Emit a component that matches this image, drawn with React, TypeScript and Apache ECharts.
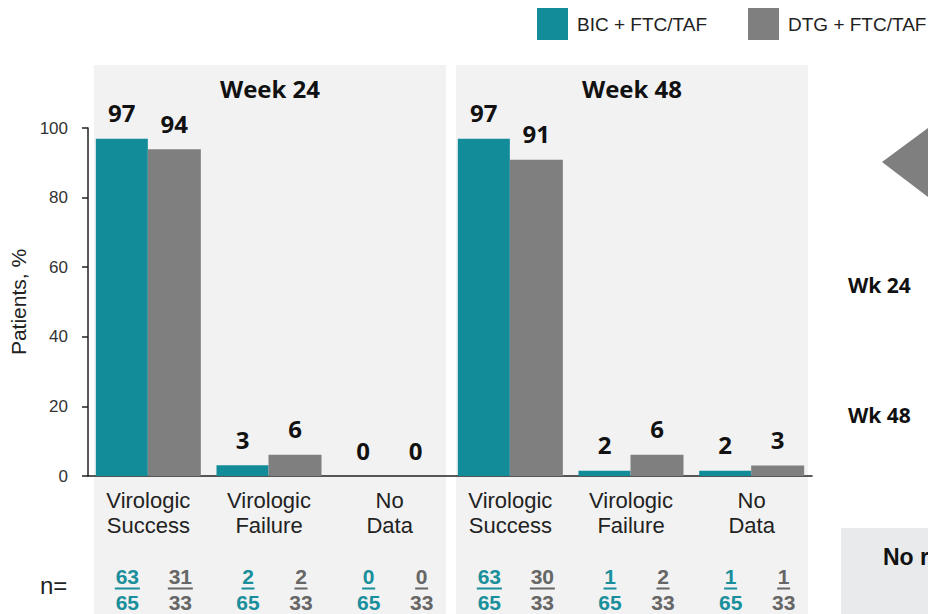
import React, { useEffect, useRef } from "react";
import * as echarts from "echarts";

const categories = [
  "Virologic\nSuccess",
  "Virologic\nFailure",
  "No\nData",
  "Virologic\nSuccess",
  "Virologic\nFailure",
  "No\nData",
];
const seriesNames = ["BIC + FTC/TAF", "DTG + FTC/TAF"];
const bicValues = [96.9, 3.1, 0, 96.9, 1.5, 1.5];
const dtgValues = [93.9, 6.1, 0, 90.9, 6.1, 3.0];
const bicN = [63, 2, 0, 63, 1, 1];
const bicTotal = [65, 65, 65, 65, 65, 65];
const dtgN = [31, 2, 0, 30, 2, 1];
const dtgTotal = [33, 33, 33, 33, 33, 33];
const panelTitles = ["Week 24", "Week 48"];
const sideLabels = ["Wk 24", "Wk 48"];
const yTicks = { min: 0, max: 100, interval: 20 };

const TEAL = "#138c99";
const GRAY = "#7f7f7f";
const SANS = "'Liberation Sans', Arial, sans-serif";
const BOLD = "'Open Sans', 'DejaVu Sans', sans-serif";

export default function App() {
  const ref = useRef<HTMLDivElement>(null);
  useEffect(() => {
    if (!ref.current) return;
    const chart = echarts.init(ref.current, undefined, { renderer: "svg" });
    const labelCfg = {
      show: true,
      position: "top",
      distance: 14,
      fontFamily: BOLD,
      fontWeight: 700,
      fontSize: 24,
      color: "#111",
      formatter: (p: any) => String(Math.round(p.value)),
    };
    const legendBase = {
      top: 8,
      padding: 0,
      itemWidth: 31,
      itemHeight: 32,
      icon: "rect",
      textStyle: { fontFamily: SANS, fontSize: 19, color: "#222", padding: [0, 0, 0, 4] },
    };
    chart.setOption({
      animation: false,
      backgroundColor: "#ffffff",
      legend: [
        { ...legendBase, left: 537, data: [seriesNames[0]] },
        { ...legendBase, left: 748, data: [seriesNames[1]] },
      ],
      grid: { left: 88, right: 116, top: 128, bottom: 138, outerBoundsMode: "none", containLabel: false },
      xAxis: {
        type: "category",
        data: categories,
        axisLine: { lineStyle: { color: "#222", width: 1.5 } },
        axisTick: { show: false },
        axisLabel: {
          interval: 0,
          fontFamily: SANS,
          fontSize: 22,
          lineHeight: 25,
          color: "#222",
          margin: 12,
        },
      },
      yAxis: {
        type: "value",
        min: yTicks.min,
        max: yTicks.max,
        interval: yTicks.interval,
        name: "Patients, %",
        nameLocation: "middle",
        nameRotate: 90,
        nameGap: 52,
        nameTextStyle: { fontFamily: SANS, fontSize: 21, color: "#222" },
        axisLine: { show: true, lineStyle: { color: "#222", width: 1.5 } },
        axisTick: { show: true, length: 6, lineStyle: { color: "#222", width: 1.5 } },
        axisLabel: { fontFamily: SANS, fontSize: 17, color: "#333", margin: 20 },
        splitLine: { show: false },
      },
      series: [
        {
          name: seriesNames[0],
          type: "bar",
          data: bicValues,
          barWidth: 52,
          barGap: "0%",
          itemStyle: { color: TEAL },
          label: labelCfg,
          z: 3,
        },
        {
          name: seriesNames[1],
          type: "bar",
          data: dtgValues,
          barWidth: 53,
          barGap: "0%",
          itemStyle: { color: GRAY },
          label: labelCfg,
          z: 3,
        },
      ],
    });

    const px = (i: number) => chart.convertToPixel({ xAxisIndex: 0 }, i) as number;
    const band = px(1) - px(0);
    const graphics: any[] = [];
    // panels
    [0, 1].forEach((p) => {
      const l = px(p * 3) - band / 2 + 6;
      const r = px(p * 3 + 2) + band / 2 - 4;
      graphics.push({
        type: "rect",
        z: -10,
        shape: { x: l, y: 65, width: r - l, height: 614 - 65 },
        style: { fill: "#f2f2f2" },
      });
      graphics.push({
        type: "text",
        z: 5,
        x: (l + r) / 2,
        y: 88,
        style: {
          text: panelTitles[p],
          fontFamily: BOLD,
          fontWeight: 700,
          fontSize: 24,
          fill: "#111",
          align: "center",
          verticalAlign: "middle",
        },
      });
    });
    // n= row
    graphics.push({
      type: "text",
      x: 40,
      y: 585,
      style: { text: "n=", fontFamily: SANS, fontSize: 24, fill: "#222", verticalAlign: "middle" },
    });
    const frac = (cx: number, num: number, den: number, color: string) => {
      const w = String(num).length * 12 + 1;
      graphics.push({
        type: "text",
        z: 5,
        x: cx,
        y: 589,
        style: {
          text: String(num) + "\n" + String(den),
          fontFamily: SANS,
          fontWeight: 700,
          fontSize: 21,
          lineHeight: 26,
          fill: color,
          align: "center",
          verticalAlign: "middle",
        },
      });
      graphics.push({
        type: "line",
        z: 5,
        shape: { x1: cx - w / 2, y1: 588.5, x2: cx + w / 2, y2: 588.5 },
        style: { stroke: color, lineWidth: 2 },
      });
    };
    categories.forEach((_, i) => {
      const c = px(i);
      frac(c - 26 + 5, bicN[i], bicTotal[i], "#1a8f9c");
      frac(c + 27 + 5, dtgN[i], dtgTotal[i], "#666666");
    });
    // right-side fragments
    graphics.push({
      type: "polygon",
      shape: { points: [[882, 162], [928, 128], [928, 197]] },
      style: { fill: "#7f7f7f" },
    });
    [285, 415].forEach((y, k) => {
      graphics.push({
        type: "text",
        x: 848,
        y,
        style: {
          text: sideLabels[k],
          fontFamily: BOLD,
          fontWeight: 700,
          fontSize: 21,
          fill: "#111",
          verticalAlign: "middle",
        },
      });
    });
    graphics.push({
      type: "rect",
      shape: { x: 841, y: 528, width: 87, height: 86 },
      style: { fill: "#e9eaec" },
    });
    graphics.push({
      type: "text",
      x: 883,
      y: 557,
      style: {
        text: "No r",
        fontFamily: SANS,
        fontWeight: 700,
        fontSize: 23,
        fill: "#111",
        verticalAlign: "middle",
      },
    });
    chart.setOption({ graphic: graphics });
    return () => chart.dispose();
  }, []);
  return (
    <div
      ref={ref}
      style={{ position: "fixed", left: 0, top: 0, width: 928, height: 614 }}
    />
  );
}
